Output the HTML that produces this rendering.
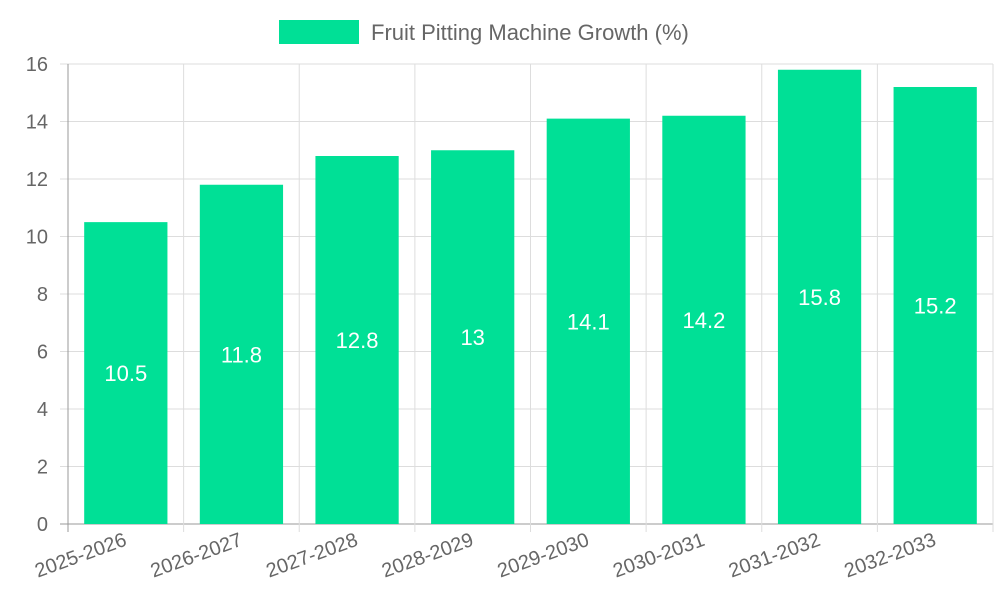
<!DOCTYPE html>
<html><head><meta charset="utf-8"><style>
body{margin:0;background:#fff;font-family:"Liberation Sans",sans-serif}
svg text{font-family:"Liberation Sans",sans-serif}
</style></head><body>
<svg id="chart" width="1000" height="600" viewBox="0 0 1000 600">
<g id="legend">
<rect x="279" y="20" width="80" height="24" fill="#00e096"/>
<text x="371" y="40" font-size="22" fill="#666">Fruit Pitting Machine Growth (%)</text>
</g>
<g id="grid"></g><g id="bars"></g><g id="labels"></g>
</svg>
<script>
const categories=["2025-2026","2026-2027","2027-2028","2028-2029","2029-2030","2030-2031","2031-2032","2032-2033"];
const values=[10.5,11.8,12.8,13,14.1,14.2,15.8,15.2];
const yTicks=[0,2,4,6,8,10,12,14,16];
const NS="http://www.w3.org/2000/svg";
const L=68,R=993,T=64,B=524,yMax=16;
const band=(R-L)/categories.length;
const y=v=>B-(v/yMax)*(B-T);
const x=i=>L+band*i;
function mk(tag,attrs,parent){const e=document.createElementNS(NS,tag);for(const k in attrs)e.setAttribute(k,attrs[k]);parent.appendChild(e);return e;}
const grid=document.getElementById('grid'),bars=document.getElementById('bars'),labels=document.getElementById('labels');
yTicks.forEach(t=>{
 const ln=mk('line',{x1:L-8,x2:R,y1:y(t),y2:y(t),stroke:t===0?'#999':'#ddd','stroke-width':1},grid);
 
 
 const tx=mk('text',{x:48,y:y(t)+7,'text-anchor':'end','font-size':20,fill:'#666'},labels);
 tx.textContent=t;
 
 
});
for(let i=0;i<=categories.length;i++){
 const ln=mk('line',{x1:x(i),x2:x(i),y1:T,y2:B+8,stroke:i===0?'#999':'#ddd','stroke-width':1},grid);
 
 
}
const bw=band*0.72;
categories.forEach((c,i)=>{
 const cx=x(i)+band/2;
 const r=mk('rect',{x:cx-bw/2,y:y(values[i]),width:bw,height:B-y(values[i]),fill:'#00e096'},bars);
 
 
 const v=mk('text',{x:cx,y:(y(values[i])+B)/2+8,'text-anchor':'middle','font-size':22,fill:'#fff'},labels);
 v.textContent=values[i];
 
 
 const xl=mk('text',{x:cx+2,y:545,'text-anchor':'end','font-size':20,fill:'#666',transform:`rotate(-20 ${cx+2} 545)`},labels);
 xl.textContent=c;
 
 
});
</script>
</body></html>
